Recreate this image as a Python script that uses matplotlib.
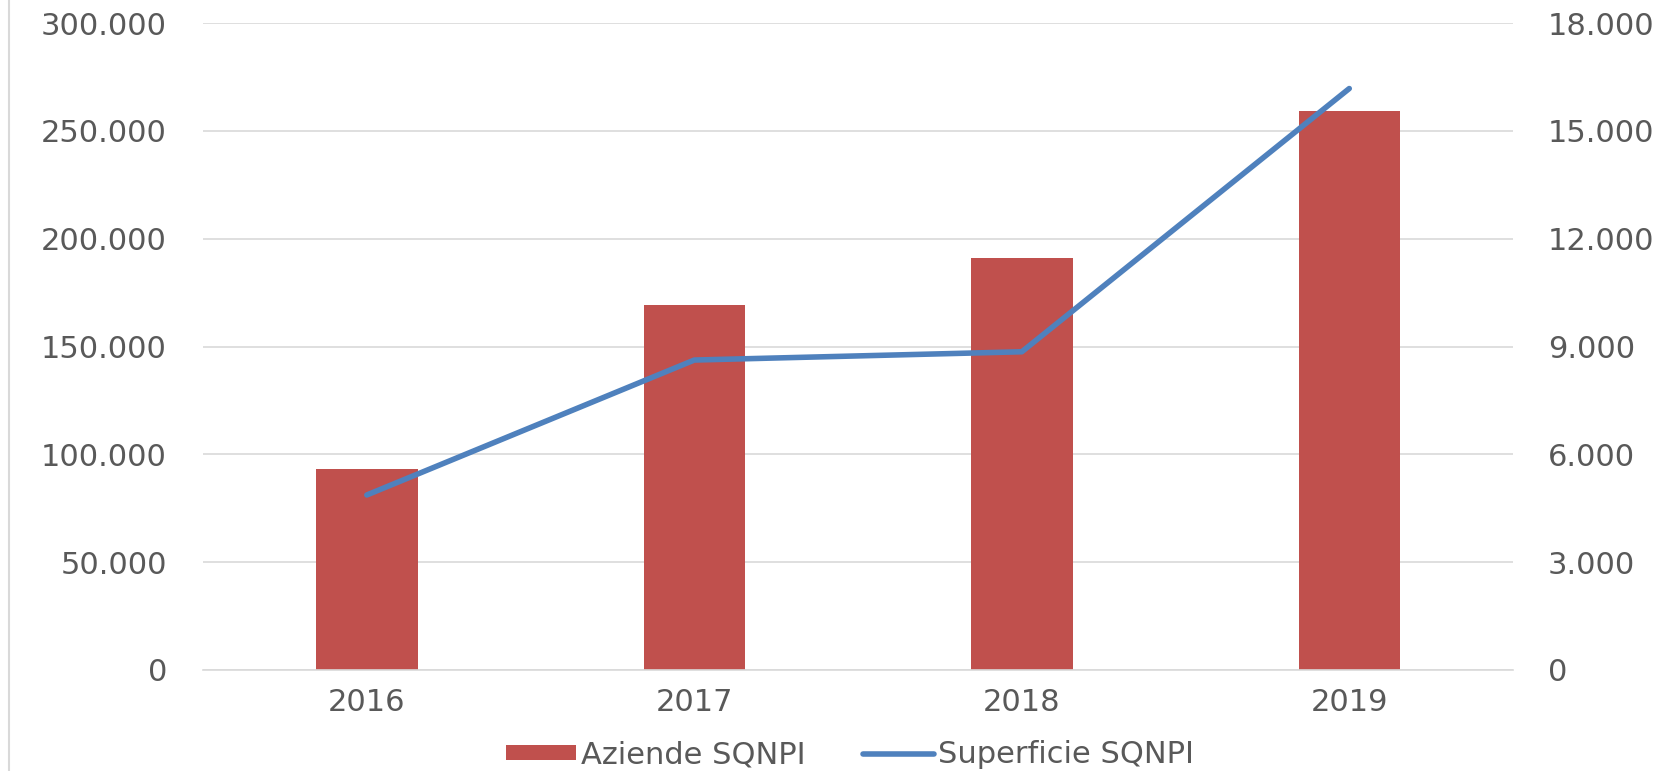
import matplotlib
matplotlib.use("Agg")
import matplotlib.pyplot as plt
from matplotlib.lines import Line2D
from matplotlib.patches import Patch
from matplotlib.ticker import FuncFormatter

plt.rcParams['font.family'] = ['DejaVu Sans']

years = ["2016", "2017", "2018", "2019"]
aziende = [93200, 169200, 191200, 259200]
superficie = [4870, 8625, 8855, 16180]
left_ticks = [0, 50000, 100000, 150000, 200000, 250000, 300000]
right_ticks = [0, 3000, 6000, 9000, 12000, 15000, 18000]

RED = "#C0504D"
BLUE = "#4F81BD"
GRID = "#D9D9D9"
TXT = "#595959"
FS = 22

fig = plt.figure(figsize=(16.7, 7.71), dpi=100)
ax = fig.add_axes([0.1216, 0.131, 0.7844, 0.839])
ax2 = ax.twinx()

x = range(len(years))
ax.bar(x, aziende, width=0.31, color=RED, zorder=2)
ax2.plot(x, superficie, color=BLUE, linewidth=4, solid_capstyle='round', zorder=3)

ax.set_xlim(-0.5, 3.5)
ax.set_ylim(0, 300000)
ax2.set_ylim(0, 18000)
ax.set_yticks(left_ticks)
ax2.set_yticks(right_ticks)
fmt = FuncFormatter(lambda v, p: f"{int(v):,}".replace(",", "."))
ax.yaxis.set_major_formatter(fmt)
ax2.yaxis.set_major_formatter(fmt)
ax.set_xticks(list(x))
ax.set_xticklabels(years)

ax.grid(axis='y', color=GRID, linewidth=1.2, zorder=0)
ax.set_axisbelow(True)
for a in (ax, ax2):
    for s in a.spines.values():
        s.set_visible(False)
ax.spines['bottom'].set_visible(True)
ax.spines['bottom'].set_color(GRID)
ax.spines['bottom'].set_linewidth(1.2)

ax.tick_params(axis='y', length=0, pad=26, labelsize=FS, labelcolor=TXT)
ax2.tick_params(axis='y', length=0, pad=25, labelsize=FS, labelcolor=TXT)
ax.tick_params(axis='x', length=0, pad=13, labelsize=FS, labelcolor=TXT)

ax.set_zorder(1)
ax2.set_zorder(2)
ax.patch.set_visible(False)

handles = [Patch(facecolor=RED, edgecolor='none'),
           Line2D([0], [0], color=BLUE, linewidth=4, solid_capstyle='round')]
fig.legend(handles, ["Aziende SQNPI", "Superficie SQNPI"], loc='center',
           bbox_to_anchor=(0.509, 0.021), ncol=2, frameon=False,
           fontsize=FS, labelcolor=TXT, handlelength=2.3, handleheight=0.36,
           handletextpad=0.15, columnspacing=1.9, borderpad=0)

fig.add_artist(Line2D([9/1670, 9/1670], [0, 1], color=GRID, linewidth=1.5,
                      transform=fig.transFigure))

fig.savefig("out.png", dpi=100)
